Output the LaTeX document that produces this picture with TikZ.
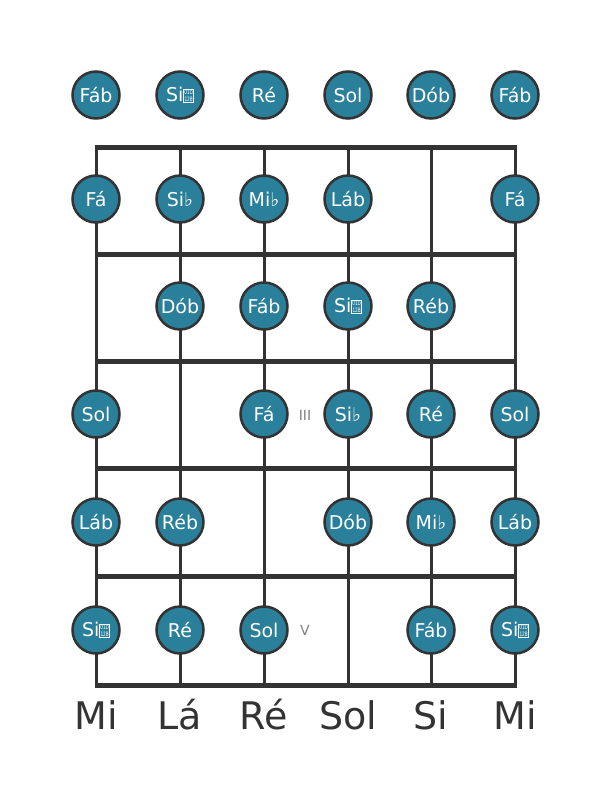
\documentclass[tikz,border=0pt]{standalone}
\usepackage{fontspec}
\setmainfont{DejaVu Sans}
\usepackage{xcolor}
\definecolor{noteTeal}{HTML}{2A7F9A}
\definecolor{boardGray}{HTML}{333333}
% no font has the double flat: drawn as the box that stands in for it
\newcommand{\dblflat}{{\setlength{\fboxsep}{0.5pt}\setlength{\fboxrule}{0.5pt}\fbox{\scalebox{0.7}[1]{\fontsize{6}{6}\selectfont\shortstack{01D\\12B}}}}}

\begin{document}
\begin{tikzpicture}[x=1pt,y=-1pt]

	\tikzstyle{fret line}=[boardGray, line width=5pt]
	\tikzstyle{string line}=[boardGray, line width=3pt]
	\tikzstyle{note}=[circle, fill=noteTeal, draw=boardGray, line width=2.5pt, minimum size=47pt, inner sep=0pt, text=white, font=\fontsize{19}{22}\selectfont]
	\tikzstyle{string name}=[boardGray, anchor=base, font=\fontsize{38}{44}\selectfont]
	\tikzstyle{fret mark}=[gray, font=\fontsize{14}{16}\selectfont]

	\useasboundingbox (0,0) rectangle (611,801);

	%strings
	\draw [string line] (96,147) -- (96,685);
	\draw [string line] (180,147) -- (180,685);
	\draw [string line] (264,147) -- (264,685);
	\draw [string line] (348,147) -- (348,685);
	\draw [string line] (431,147) -- (431,685);
	\draw [string line] (515,147) -- (515,685);

	%frets
	\draw [fret line] (94.5,147) -- (516.5,147);
	\draw [fret line] (94.5,254) -- (516.5,254);
	\draw [fret line] (94.5,361) -- (516.5,361);
	\draw [fret line] (94.5,468) -- (516.5,468);
	\draw [fret line] (94.5,576) -- (516.5,576);
	\draw [fret line] (94.5,685) -- (516.5,685);

	%open strings
	\node [note] (E0) at (96,95) {Fáb};
	\node [note] (A0) at (180,95) {Si\dblflat};
	\node [note] (D0) at (264,95) {Ré};
	\node [note] (G0) at (348,95) {Sol};
	\node [note] (B0) at (431,95) {Dób};
	\node [note] (e0) at (515,95) {Fáb};

	%fret 1
	\node [note] (E1) at (96,199) {Fá};
	\node [note] (A1) at (180,199) {Si♭};
	\node [note] (D1) at (264,199) {Mi♭};
	\node [note] (G1) at (348,199) {Láb};
	\node [note] (e1) at (515,199) {Fá};

	%fret 2
	\node [note] (A2) at (180,306) {Dób};
	\node [note] (D2) at (264,306) {Fáb};
	\node [note] (G2) at (348,306) {Si\dblflat};
	\node [note] (B2) at (431,306) {Réb};

	%fret 3
	\node [note] (E3) at (96,414) {Sol};
	\node [note] (D3) at (264,414) {Fá};
	\node [note] (G3) at (348,414) {Si♭};
	\node [note] (B3) at (431,414) {Ré};
	\node [note] (e3) at (515,414) {Sol};
	\node [fret mark] (mark3) at (305,415) {III};

	%fret 4
	\node [note] (E4) at (96,522) {Láb};
	\node [note] (A4) at (180,522) {Réb};
	\node [note] (G4) at (348,522) {Dób};
	\node [note] (B4) at (431,522) {Mi♭};
	\node [note] (e4) at (515,522) {Láb};

	%fret 5
	\node [note] (E5) at (96,630) {Si\dblflat};
	\node [note] (A5) at (180,630) {Ré};
	\node [note] (D5) at (264,630) {Sol};
	\node [note] (B5) at (431,630) {Fáb};
	\node [note] (e5) at (515,630) {Si\dblflat};
	\node [fret mark] (mark5) at (305,630) {V};

	%string names
	\node [string name] (nameE) at (96,729) {Mi};
	\node [string name] (nameA) at (180,729) {Lá};
	\node [string name] (nameD) at (264,729) {Ré};
	\node [string name] (nameG) at (348,729) {Sol};
	\node [string name] (nameB) at (431,729) {Si};
	\node [string name] (namee) at (515,729) {Mi};

\end{tikzpicture}
\end{document}
